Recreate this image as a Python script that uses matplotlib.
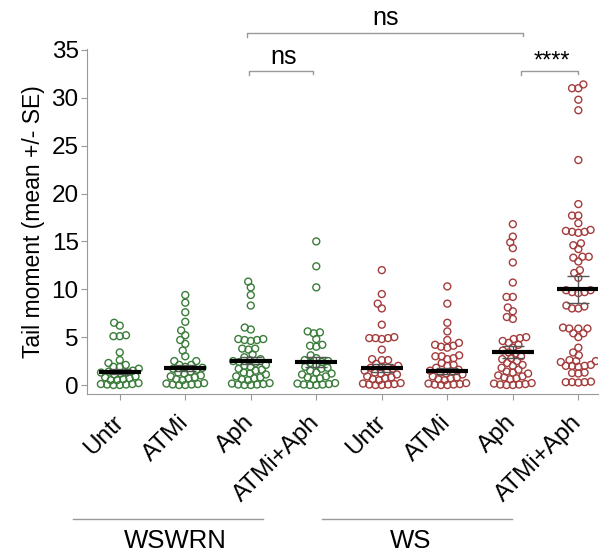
import matplotlib.pyplot as plt
from matplotlib.lines import Line2D
import numpy as np

plt.rcParams['font.family'] = ['Liberation Sans', 'DejaVu Sans']

# --- data ---
tick_labels = ['Untr', 'ATMi', 'Aph', 'ATMi+Aph', 'Untr', 'ATMi', 'Aph', 'ATMi+Aph']
cell_lines = ['WSWRN', 'WS']

g1 = [6.5, 6.2, 5.2, 5.1, 5.1, 3.4, 2.6, 2.3, 2.1, 1.9, 1.9, 1.7, 1.5, 1.4, 1.3, 1.3,
      1.2, 1.1, 0.9, 0.8, 0.7, 0.6, 0.5, 0.5, 0.2, 0.1, 0.1, 0.05, 0.05, 0.0, 0.0]
g2 = [9.4, 8.6, 7.6, 6.6, 5.7, 5.2, 4.7, 4.3, 3.6, 3.0, 2.5, 2.5, 2.1, 2.1, 1.9, 1.8,
      1.7, 1.6, 1.4, 1.3, 1.2, 1.0, 0.9, 0.8, 0.7, 0.6, 0.5, 0.2, 0.15, 0.1, 0.05,
      0.05, 0.0, 0.0]
g3 = [10.8, 10.2, 9.4, 8.3, 6.0, 5.8, 4.8, 4.7, 4.6, 4.7, 4.8, 3.8, 3.7, 3.8, 3.2,
      2.9, 2.7, 2.6, 2.5, 2.4, 2.3, 2.1, 2.0, 1.9, 1.7, 1.6, 1.5, 1.3, 1.2, 1.1, 0.9,
      0.8, 0.7, 0.6, 0.5, 0.2, 0.15, 0.1, 0.05, 0.05, 0.0, 0.0]
g4 = [15.0, 12.4, 10.2, 5.6, 5.4, 5.5, 4.8, 4.1, 4.0, 4.2, 3.1, 2.8, 2.6, 2.5, 2.4,
      2.3, 2.1, 1.9, 1.8, 1.7, 1.5, 1.3, 1.2, 1.1, 0.9, 0.8, 0.7, 0.6, 0.2, 0.15, 0.1,
      0.05, 0.05, 0.0, 0.0]
g5 = [12.0, 9.5, 8.5, 8.0, 6.3, 4.9, 4.8, 4.9, 5.0, 4.9, 3.7, 2.6, 2.6, 2.7, 2.2,
      2.0, 1.9, 1.8, 1.7, 1.5, 1.4, 1.3, 1.2, 1.1, 0.9, 0.8, 0.7, 0.6, 0.5, 0.2, 0.15,
      0.1, 0.05, 0.05, 0.0, 0.0]
g6 = [10.3, 8.5, 6.5, 5.6, 4.7, 4.1, 3.9, 4.0, 4.2, 4.4, 3.0, 2.8, 2.7, 3.0, 3.1,
      2.3, 2.1, 2.0, 1.8, 1.6, 1.5, 1.4, 1.3, 1.2, 1.1, 0.9, 0.8, 0.7, 0.6, 0.5, 0.2,
      0.15, 0.1, 0.05, 0.05, 0.0, 0.0]
g7 = [16.8, 15.5, 14.9, 14.3, 12.8, 10.7, 9.2, 9.2, 8.1, 7.7, 7.1, 6.9, 5.0, 4.8,
      4.4, 4.2, 4.6, 4.9, 3.9, 3.6, 3.4, 3.3, 3.0, 2.8, 2.7, 2.5, 2.3, 2.1, 2.0, 1.8,
      1.6, 1.4, 1.3, 1.2, 1.0, 0.9, 0.8, 0.7, 0.6, 0.2, 0.15, 0.1, 0.05, 0.05, 0.0, 0.0]
g8 = [31.4, 31.0, 31.0, 29.8, 28.7, 23.5, 18.9, 17.7, 17.7, 16.9, 16.1, 16.0, 15.9,
      16.0, 16.2, 14.6, 14.8, 14.2, 13.4, 12.9, 13.3, 13.4, 12.0, 11.7, 11.2, 9.9, 9.7,
      9.6, 9.7, 9.9, 8.3, 8.0, 8.0, 8.2, 5.9, 5.9, 6.0, 5.9, 5.4, 5.0, 5.4, 3.9, 3.4,
      3.1, 2.5, 2.4, 2.5, 2.6, 2.0, 1.9, 2.0, 2.1, 2.0, 1.25, 1.2, 1.3, 0.3, 0.3, 0.25,
      0.35, 0.3]
groups = [g1, g2, g3, g4, g5, g6, g7, g8]

means = [1.4, 1.75, 2.55, 2.4, 1.8, 1.5, 3.45, 10.0]
sems = [0.25, 0.3, 0.35, 0.5, 0.4, 0.3, 0.6, 1.4]

green = '#3a7d3a'
red = '#a53c3c'
colors = [green] * 4 + [red] * 4


def swarm_offsets(ys, d, maxw):
    # beeswarm in pixel space, width capped (points may overlap at the cap)
    order = np.argsort(ys, kind='stable')
    xs = np.zeros(len(ys))
    placed = []
    grid = list(np.linspace(-maxw, maxw, 15))
    for i in order:
        y = ys[i]
        near = [(px, py) for px, py in placed if abs(py - y) < d]
        cands = [0.0] + grid
        for px, py in near:
            dx = np.sqrt(d ** 2 - (py - y) ** 2)
            cands += [px - dx, px + dx]
        cands = [c for c in cands if abs(c) <= maxw + 1e-6]
        cands.sort(key=abs)

        def gap(c):
            if not near:
                return np.inf
            return min((c - px) ** 2 + (y - py) ** 2 for px, py in near)

        best = None
        for c in cands:
            if gap(c) >= d ** 2 - 1e-6:
                best = c
                break
        if best is None:
            best = max(cands, key=gap)
        xs[i] = best
        placed.append((best, y))
    return xs


fig = plt.figure(figsize=(6.06, 5.54), dpi=100)
ax = fig.add_axes([87 / 606, 160 / 554, (598 - 87) / 606, (394 - 49) / 554])
ax.set_xlim(-0.5, 7.3)
ax.set_ylim(-0.94, 35.1)

to_disp = ax.transData
to_data = ax.transData.inverted()
for k, vals in enumerate(groups):
    vals = np.array(vals, dtype=float)
    pts = to_disp.transform(np.column_stack([np.full(len(vals), k), vals]))
    off = swarm_offsets(pts[:, 1], 6.3, 19)
    pts[:, 0] += off
    dpts = to_data.transform(pts)
    ax.scatter(dpts[:, 0], dpts[:, 1], s=25, facecolors='none', edgecolors=colors[k],
               linewidths=1.0, zorder=2)

x = np.arange(len(groups))
ax.errorbar(x, means, yerr=sems, fmt='none', ecolor='#555555', elinewidth=1.0,
            capsize=8, capthick=1.0, zorder=3)
ax.hlines(means, x - 0.32, x + 0.32, colors='black', linewidth=3.0, zorder=4)

ax.set_xticks(x)
ax.set_xticklabels(tick_labels, rotation=45, ha='right', va='center',
                   rotation_mode='anchor', fontsize=17.5)
ax.set_yticks(np.arange(0, 36, 5))
ax.tick_params(axis='y', labelsize=17.5, length=4, color='#999999', pad=2)
ax.tick_params(axis='x', length=4, color='#999999', pad=14)
for s in ['top', 'right']:
    ax.spines[s].set_visible(False)
for s in ['left', 'bottom']:
    ax.spines[s].set_color('#999999')
ax.set_ylabel('Tail moment (mean +/- SE)', fontsize=16.5, labelpad=5)

# significance brackets
br = dict(color='#999999', lw=1.0, clip_on=False)
ax.plot([1.94, 1.94, 6.16, 6.16], [36.4, 36.8, 36.8, 36.5], **br)
ax.text(4.06, 37.1, 'ns', ha='center', va='bottom', fontsize=18)
ax.plot([1.98, 1.98, 2.95, 2.95], [32.4, 32.8, 32.8, 32.5], **br)
ax.text(2.5, 33.0, 'ns', ha='center', va='bottom', fontsize=18)
ax.plot([6.13, 6.13, 7.0, 7.0], [32.4, 32.8, 32.8, 32.5], **br)
ax.text(6.6, 32.6, '****', ha='center', va='bottom', fontsize=17)

# cell line labels under the x tick labels
for (x0, x1), xt, name in zip([(73, 263), (322, 512)], [175, 411], cell_lines):
    fig.add_artist(Line2D([x0 / 606, x1 / 606], [1 - 519 / 554] * 2,
                          color='#999999', lw=1.0))
    fig.text(xt / 606, 1 - 541 / 554, name, ha='center', va='center',
             fontsize=18.5)

fig.savefig('out.png', dpi=100)
